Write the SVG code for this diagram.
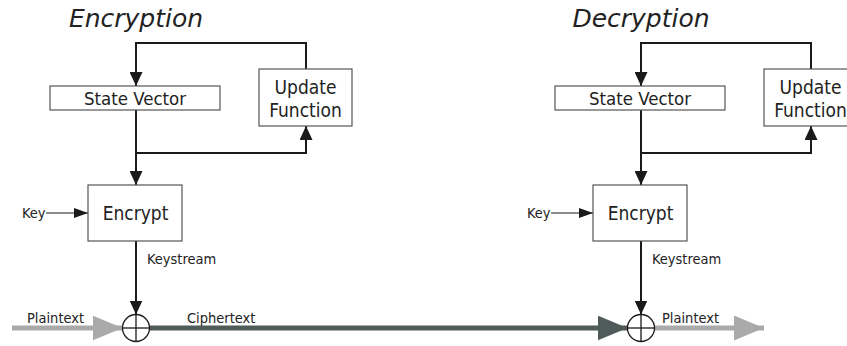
<svg xmlns="http://www.w3.org/2000/svg" width="847" height="346" viewBox="0 0 847 346">
  <style>
    .title { font-family: "DejaVu Sans", Verdana, sans-serif; font-style: italic; font-size: 25px; fill: #222; text-anchor: middle; }
    .box { fill: #fff; stroke: #555; stroke-width: 1.2; }
    .lbl { font-family: "DejaVu Sans Condensed", "DejaVu Sans", sans-serif; font-size: 18.5px; fill: #222; text-anchor: middle; }
    .big { font-size: 19px; }
    .small { font-family: "DejaVu Sans Condensed", "DejaVu Sans", sans-serif; font-size: 14.5px; fill: #222; }
    .flow { fill: none; stroke: #1a1a1a; stroke-width: 2; }
    .thin { fill: none; stroke: #1a1a1a; stroke-width: 1.2; }
    .plain { fill: none; stroke: #aaa; stroke-width: 5; }
    .cipher { fill: none; stroke: #4f5b59; stroke-width: 5; }
    .xor circle { fill: #fff; stroke: #1a1a1a; stroke-width: 1.3; }
    .xor line { stroke: #1a1a1a; stroke-width: 1.3; }
  </style>
  <defs>
    <marker id="arrow" markerUnits="userSpaceOnUse" markerWidth="14" markerHeight="13" refX="14" refY="6.5" orient="auto">
      <path d="M0,0 L14,6.5 L0,13 z" fill="#1a1a1a"/>
    </marker>
    <marker id="arrow-sm" markerUnits="userSpaceOnUse" markerWidth="14" markerHeight="10" refX="14" refY="5" orient="auto">
      <path d="M0,0 L14,5 L0,10 z" fill="#1a1a1a"/>
    </marker>
    <marker id="arrow-grey" markerUnits="userSpaceOnUse" markerWidth="30" markerHeight="25" refX="30" refY="12.5" orient="auto">
      <path d="M0,0 L30,12.5 L0,25 z" fill="#aaa"/>
    </marker>
    <marker id="arrow-dark" markerUnits="userSpaceOnUse" markerWidth="30" markerHeight="25" refX="30" refY="12.5" orient="auto">
      <path d="M0,0 L30,12.5 L0,25 z" fill="#4f5b59"/>
    </marker>
  </defs>

  <rect width="847" height="346" fill="#fff"/>

  <!-- section titles -->
  <text class="title" x="136" y="27">Encryption</text>
  <text class="title" x="641" y="27">Decryption</text>

  <!-- connectors -->
  <g id="connectors">
    <!-- encryption side -->
    <path class="flow" d="M306,69 V43 H136 V86" marker-end="url(#arrow)"/>
    <path class="flow" d="M136,110 V185" marker-end="url(#arrow)"/>
    <path class="flow" d="M136,153 H306 V126" marker-end="url(#arrow)"/>
    <path class="flow" d="M136,241 V314.5" marker-end="url(#arrow)"/>
    <path class="thin" d="M46,213 H88" marker-end="url(#arrow-sm)"/>
    <path class="plain" d="M12,328 H122.5" marker-end="url(#arrow-grey)"/>
    <path class="cipher" d="M149.5,328 H627.5" marker-end="url(#arrow-dark)"/>
    <!-- decryption side -->
    <path class="flow" d="M811,69 V43 H641 V86" marker-end="url(#arrow)"/>
    <path class="flow" d="M641,110 V185" marker-end="url(#arrow)"/>
    <path class="flow" d="M641,153 H811 V126" marker-end="url(#arrow)"/>
    <path class="flow" d="M641,241 V314.5" marker-end="url(#arrow)"/>
    <path class="thin" d="M551,213 H593" marker-end="url(#arrow-sm)"/>
    <path class="plain" d="M654.5,328 H764" marker-end="url(#arrow-grey)"/>
  </g>

  <!-- encryption nodes -->
  <g id="enc-state">
    <rect class="box" x="50" y="86" width="170" height="24"/>
    <text class="lbl" x="135" y="105">State Vector</text>
  </g>
  <g id="enc-update">
    <rect class="box" x="259" y="69" width="93" height="57"/>
    <text class="lbl big" x="305.5" y="94">Update</text>
    <text class="lbl big" x="305.5" y="116.5">Function</text>
  </g>
  <g id="enc-encrypt">
    <rect class="box" x="88" y="185" width="94" height="56"/>
    <text class="lbl big" x="135.5" y="220">Encrypt</text>
  </g>
  <g id="enc-xor" class="xor">
    <circle cx="136" cy="328" r="13.5"/>
    <line x1="122.5" y1="328" x2="149.5" y2="328"/>
    <line x1="136" y1="314.5" x2="136" y2="341.5"/>
  </g>
  <g id="enc-labels">
    <text class="small" x="22" y="218">Key</text>
    <text class="small" x="147" y="264">Keystream</text>
    <text class="small" x="27" y="323">Plaintext</text>
    <text class="small" x="187" y="323">Ciphertext</text>
  </g>

  <!-- decryption nodes -->
  <g id="dec-state">
    <rect class="box" x="555" y="86" width="170" height="24"/>
    <text class="lbl" x="640" y="105">State Vector</text>
  </g>
  <g id="dec-update">
    <rect class="box" x="764" y="69" width="93" height="57"/>
    <text class="lbl big" x="810.5" y="94">Update</text>
    <text class="lbl big" x="810.5" y="116.5">Function</text>
  </g>
  <g id="dec-encrypt">
    <rect class="box" x="593" y="185" width="94" height="56"/>
    <text class="lbl big" x="640.5" y="220">Encrypt</text>
  </g>
  <g id="dec-xor" class="xor">
    <circle cx="641" cy="328" r="13.5"/>
    <line x1="627.5" y1="328" x2="654.5" y2="328"/>
    <line x1="641" y1="314.5" x2="641" y2="341.5"/>
  </g>
  <g id="dec-labels">
    <text class="small" x="527" y="218">Key</text>
    <text class="small" x="652" y="264">Keystream</text>
    <text class="small" x="662" y="323">Plaintext</text>
  </g>
</svg>
